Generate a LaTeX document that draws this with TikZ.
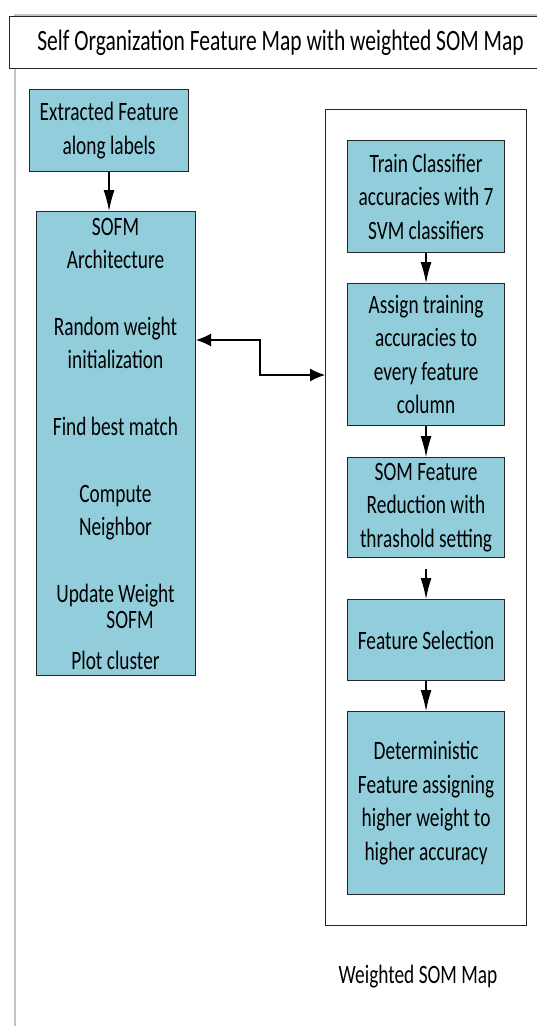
\documentclass[tikz,border=0pt]{standalone}
\usepackage{fontspec}
\setmainfont{Carlito}[FakeStretch=0.73]
\usetikzlibrary{arrows.meta}
\definecolor{boxblue}{RGB}{146,205,220}
\definecolor{framegray}{RGB}{195,195,195}
\begin{document}
\begin{tikzpicture}[x=1pt,y=-1pt,
  box/.style={draw=black!85, line width=1.1pt, fill=boxblue, inner sep=0pt, anchor=north west, align=center,
    font=\fontsize{26.5}{33.5}\selectfont},
  txt/.style={font=\fontsize{26.5}{33.5}\selectfont, inner sep=0pt, anchor=base},
  arr/.style={-{Latex[length=21pt,width=11pt]}, line width=1.2pt},
  darr/.style={{Latex[length=15pt,width=13pt]}-{Latex[length=15pt,width=13pt]}, line width=1.2pt}
]
\useasboundingbox (0,0) rectangle (536,1026);
% outer page frame (gray)
\draw[framegray, line width=1.5pt] (15,1030) -- (15,15) -- (540,15);
% title
\node[draw=black!85, line width=1.1pt, fill=white, anchor=north west, minimum width=542pt, minimum height=52pt,
  inner sep=0pt, font=\fontsize{29.5}{34}\selectfont] (title) at (9,16)
  {Self Organization Feature Map with weighted SOM Map};
% left column
\node[box, minimum width=159pt, minimum height=82pt] (ext) at (29,89) {Extracted Feature\\along labels};
\node[box, minimum width=159pt, minimum height=464pt] (sofm) at (36,211) {};
\node[txt] (s1) at (115.5,235.5) {SOFM};
\node[txt] (s2) at (115.5,268.5) {Architecture};
\node[txt] (s3) at (115.5,335.5) {Random weight};
\node[txt] (s4) at (115.5,368.5) {initialization};
\node[txt] (s5) at (115.5,435.5) {Find best match};
\node[txt] (s6) at (115.5,502.5) {Compute};
\node[txt] (s7) at (115.5,535.5) {Neighbor};
\node[txt] (s8) at (115.5,602.5) {Update Weight};
\node[txt] (s9) at (130,628.5) {SOFM};
\node[txt] (s10) at (115.5,669.5) {Plot cluster};
% right frame
\node[draw=black!85, line width=1.1pt, anchor=north west, minimum width=201pt, minimum height=816pt, inner sep=0pt] (frame) at (325,109) {};
\node[box, minimum width=157pt, minimum height=112pt] (train) at (347,140) {Train Classifier\\accuracies with 7\\SVM classifiers};
\node[box, minimum width=157pt, minimum height=142pt] (assign) at (347,283) {Assign training\\accuracies to\\every feature\\column};
\node[box, minimum width=157pt, minimum height=100pt] (som) at (347,457) {SOM Feature\\Reduction with\\thrashold setting};
\node[box, minimum width=157pt, minimum height=81pt] (fs) at (347,599) {Feature Selection};
\node[box, minimum width=157pt, minimum height=183pt] (det) at (347,711) {Deterministic\\Feature assigning\\higher weight to\\higher accuracy};
\node[txt] (wlabel) at (418,983) {Weighted SOM Map};
% connectors
\draw[arr] (ext.south) -- (ext.south |- sofm.north);
\coordinate (j1) at (260,340);
\coordinate (j2) at (260,375);
\draw[darr] (sofm.east |- j1) -- (j1) -- (j2) -- (frame.west |- j2);
\draw[arr] (train.south) -- (assign.north);
\draw[arr] (assign.south) -- (som.north);
\draw[arr] ([yshift=-11pt]som.south) -- (fs.north);
\draw[arr] (fs.south) -- (det.north);
\end{tikzpicture}
\end{document}
